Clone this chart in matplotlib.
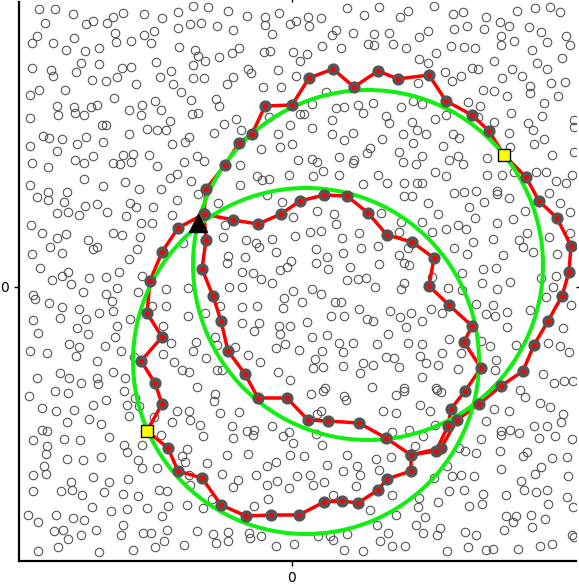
import numpy as np
import matplotlib
matplotlib.use("Agg")
import matplotlib.pyplot as plt
from matplotlib.patches import Circle

# background sample points (data units)
bg_points = [
(-253,278),(-237,278),(-219,273),(-247,264),(-206,263),(-199,266),(-185,264),(-179,270),(-169,274),(-148,273),
(-130,269),(-114,275),(-99,281),(-255,251),(-260,244),(-239,244),(-218,249),(-226,237),(-207,236),(-193,239),
(-177,254),(-176,245),(-161,246),(-148,252),(-138,256),(-141,244),(-114,259),(-102,263),(-113,240),(-260,219),
(-241,217),(-239,211),(-216,215),(-211,224),(-193,223),(-200,207),(-186,206),(-175,210),(-170,219),(-161,220),
(-156,203),(-136,225),(-132,210),(-121,216),(-119,203),(-111,195),(-99,222),(-99,209),(-262,192),(-253,197),
(-227,197),(-178,189),(-235,181),(-218,180),(-234,172),(-217,174),(-208,172),(-201,180),(-195,182),(-163,177),
(-150,182),(-151,172),(-137,186),(-131,177),(-122,166),(-101,187),(-100,173),(-262,169),(-190,162),(-186,162),
(-145,158),(-135,157),(-126,157),(-249,151),(-243,149),(-230,148),(-215,143),(-206,150),(-189,145),(-163,153),
(-120,143),(-107,145),(-103,150),(-262,141),(-235,136),(-217,127),(-208,124),(-199,131),(-179,124),(-172,123),
(-169,132),(-161,125),(-159,133),(-143,132),(-135,121),(-108,125),(-260,124),(-244,120),(-262,102),(-244,95),
(-225,95),(-208,108),(-189,101),(-167,105),(-153,98),(-131,98),(-122,109),(-115,113),(-101,106),
(-84,280),(-64,276),(-45,271),(-27,270),(-27,262),(-13,274),(-2,263),(4,266),(16,270),(17,261),
(29,269),(55,279),(72,272),(87,280),(-91,264),(-75,261),(-59,257),(-20,253),(40,252),(44,257),
(61,254),(82,253),(30,241),(49,239),(76,243),(82,242),(-97,237),(-94,231),(-87,226),(-73,230),
(-60,234),(-53,239),(-28,235),(-22,236),(1,235),(15,233),(8,226),(-88,209),(-44,218),(-41,214),
(-14,217),(4,211),(-65,203),(-59,210),(-29,200),(-11,200),(34,195),(-76,188),(-73,181),(-94,174),
(-56,168),(-23,170),(8,173),(12,173),(20,183),(44,179),(52,180),(66,182),(71,174),(81,184),
(-68,163),(-78,154),(-51,157),(-2,162),(20,159),(40,167),(52,147),(61,154),(90,148),(-14,153),
(-31,138),(-12,140),(0,143),(40,153),(-95,131),(-88,126),(-52,122),(6,127),(20,128),(25,125),
(47,130),(62,127),(61,124),(75,134),(78,139),(31,116),(-35,111),(-30,107),(-23,108),(-3,112),
(21,111),(47,112),(86,112),(71,103),(-52,102),(-94,93),
(142,281),(161,273),(171,275),(194,270),(208,265),(225,276),(243,279),(258,280),(268,275),(108,270),
(116,276),(97,254),(101,243),(114,239),(127,250),(136,256),(162,258),(175,261),(192,258),(217,261),
(209,251),(209,242),(222,246),(237,260),(249,255),(255,245),(274,251),(278,242),(159,241),(172,240),
(183,239),(240,237),(144,234),(127,228),(136,224),(202,226),(270,229),(245,224),(255,218),(153,215),
(160,206),(169,211),(180,219),(186,218),(220,218),(210,209),(230,211),(238,201),(238,194),(259,204),
(273,205),(126,204),(191,197),(202,196),(215,191),(266,191),(121,186),(130,183),(109,180),(176,185),
(188,181),(252,184),(94,171),(97,164),(120,165),(125,157),(134,153),(143,168),(154,172),(186,170),
(202,165),(219,174),(236,164),(241,157),(250,171),(282,167),(282,160),(111,153),(121,144),(151,141),
(161,153),(167,149),(217,154),(218,140),(242,143),(252,148),(107,135),(111,125),(130,131),(124,123),
(157,127),(166,131),(171,123),(195,129),(260,132),(282,135),(95,104),(112,104),(125,104),(130,104),
(143,115),(154,111),(195,112),(210,112),(222,115),(244,115),(254,115),(264,106),(280,112),(274,104),
(162,94),(172,95),(184,96),(205,96),(205,93),(257,94),
(-255,90),(-244,87),(-228,85),(-207,81),(-195,83),(-235,74),(-224,75),(-213,72),(-185,75),(-162,84),
(-156,80),(-139,80),(-115,87),(-166,71),(-261,62),(-250,54),(-235,49),(-226,53),(-179,54),(-170,52),
(-151,64),(-140,64),(-120,72),(-152,50),(-204,47),(-199,38),(-195,40),(-242,40),(-230,34),(-260,33),
(-155,38),(-163,28),(-252,19),(-224,15),(-230,11),(-240,7),(-203,9),(-186,10),(-173,15),(-150,11),
(-221,3),(-175,-1),(-209,-5),(-259,-8),(-257,-12),(-186,-7),(-180,-14),(-243,-16),(-230,-20),(-213,-22),
(-193,-26),(-179,-24),(-154,-5),(-232,-31),(-259,-33),(-206,-32),(-162,-32),(-175,-39),(-254,-46),(-215,-41),
(-204,-47),(-177,-50),(-223,-57),(-213,-60),(-187,-59),(-216,-69),(-262,-64),(-245,-66),(-171,-64),(-195,-74),
(-232,-86),(-223,-91),(-211,-96),(-195,-91),(-194,-97),(-179,-85),(-167,-91),(-255,-91),(-158,-70),(-140,-19),
(-126,-19),(-126,-2),(-129,-39),(-121,-56),(-129,-67),(-118,-75),(-110,-83),(-103,-85),(-99,-64),(-104,-29),
(-104,-1),(-109,44),
(-74,84),(-67,62),(-69,50),(-46,47),(-36,44),(-33,40),(-20,48),(-25,92),(-10,85),(1,70),
(25,76),(42,73),(44,63),(18,55),(29,56),(3,51),(67,54),(50,49),(89,74),(86,41),
(69,39),(24,38),(51,34),(-16,35),(-64,31),(-65,24),(-47,30),(-1,26),(-5,20),(-12,17),
(24,24),(35,30),(36,18),(58,20),(87,23),(-50,15),(-39,14),(-31,8),(-20,4),(-63,0),
(-50,0),(1,-4),(20,-2),(29,-7),(55,7),(66,8),(74,9),(83,0),(-8,-11),(10,-15),
(43,-15),(49,-15),(-72,-19),(-50,-20),(-35,-19),(-9,-21),(67,-22),(39,-29),(52,-29),(75,-32),
(81,-34),(-87,-26),(-50,-36),(-33,-36),(-38,-44),(-13,-39),(-2,-39),(15,-35),(-12,-47),(20,-50),
(35,-48),(47,-56),(61,-56),(85,-57),(-77,-50),(-75,-58),(-57,-60),(-16,-61),(-7,-57),(7,-63),
(30,-64),(51,-65),(-44,-68),(-32,-75),(23,-72),(21,-81),(31,-80),(51,-79),(71,-76),(81,-78),
(68,-86),(-14,-85),(-2,-93),(-75,-83),(-70,-83),(-86,-71),(-95,-100),(33,-101),(80,-100),(-96,-55),
(112,91),(120,91),(136,84),(217,89),(268,84),(177,80),(192,85),(146,73),(130,65),(109,65),
(107,55),(140,55),(154,58),(166,62),(174,58),(183,69),(205,64),(221,68),(233,76),(278,75),
(235,54),(257,50),(278,54),(181,45),(201,48),(227,47),(231,40),(241,35),(265,33),(162,39),
(175,33),(211,32),(116,39),(107,32),(112,24),(117,22),(191,18),(204,19),(170,14),(140,10),
(249,9),(264,11),(112,4),(109,-2),(156,-1),(170,-3),(190,4),(205,-2),(218,5),(261,0),
(254,-10),(279,-18),(139,-22),(150,-26),(119,-26),(108,-30),(98,-24),(184,-17),(201,-18),(194,-27),
(203,-29),(215,-25),(238,-23),(271,-41),(114,-40),(130,-34),(215,-40),(96,-47),(116,-56),(130,-57),
(157,-52),(189,-54),(198,-59),(224,-58),(256,-56),(268,-59),(277,-65),(150,-66),(169,-66),(94,-70),
(102,-71),(128,-69),(134,-76),(146,-78),(107,-80),(204,-73),(203,-83),(166,-82),(251,-87),(272,-94),
(281,-94),(130,-90),(112,-101),(144,-101),(262,-96),
(-263,-109),(-237,-104),(-224,-106),(-250,-121),(-236,-124),(-218,-123),(-199,-118),(-186,-113),(-203,-132),(-191,-137),
(-225,-135),(-165,-118),(-168,-104),(-163,-129),(-157,-111),(-153,-119),(-138,-130),(-115,-124),(-103,-124),(-102,-133),
(-120,-135),(-250,-143),(-245,-144),(-259,-153),(-228,-152),(-212,-153),(-183,-150),(-245,-159),(-246,-167),(-131,-148),
(-150,-158),(-168,-158),(-165,-165),(-105,-162),(-110,-169),(-107,-175),(-225,-172),(-209,-173),(-191,-170),(-154,-173),
(-150,-181),(-135,-181),(-248,-179),(-246,-187),(-259,-188),(-199,-190),(-221,-195),(-183,-195),(-164,-192),(-103,-188),
(-102,-198),(-259,-204),(-231,-204),(-220,-203),(-210,-208),(-188,-205),(-169,-207),(-154,-209),(-133,-203),(-125,-204),
(-264,-228),(-254,-235),(-236,-228),(-219,-231),(-208,-233),(-200,-220),(-181,-224),(-165,-222),(-145,-221),(-124,-219),
(-130,-229),(-105,-218),(-238,-244),(-229,-243),(-211,-248),(-196,-243),(-224,-252),(-169,-238),(-171,-248),(-149,-246),
(-141,-246),(-125,-243),(-108,-258),(-128,-254),(-137,-260),(-159,-263),(-193,-265),(-234,-260),(-254,-264),
(-77,-107),(-78,-114),(19,-107),(31,-104),(52,-109),(54,-113),(-72,-126),(-53,-125),(25,-127),(29,-124),
(91,-124),(-92,-138),(-60,-139),(-45,-144),(-39,-148),(-38,-143),(-20,-139),(-9,-149),(-3,-145),(-89,-149),
(-59,-151),(24,-147),(1,-156),(30,-158),(55,-168),(84,-172),(-65,-168),(-44,-167),(-2,-168),(12,-169),
(-85,-176),(-25,-179),(-16,-175),(35,-178),(51,-184),(65,-179),(68,-188),(87,-183),(-70,-187),(-54,-193),
(-59,-200),(-36,-188),(-25,-198),(-15,-194),(-3,-201),(5,-189),(18,-188),(21,-198),(32,-195),(64,-199),
(-80,-212),(-89,-221),(-24,-212),(-38,-219),(41,-208),(78,-223),(-95,-244),(-79,-247),(-76,-256),(-64,-245),
(-64,-254),(-43,-246),(-42,-251),(-31,-249),(-16,-259),(2,-257),(26,-249),(38,-249),(41,-253),(55,-247),
(52,-263),(71,-264),(85,-238),(88,-254),
(104,-108),(112,-104),(145,-103),(149,-105),(128,-118),(138,-124),(104,-126),(228,-103),(233,-110),(202,-122),
(217,-124),(248,-116),(258,-120),(271,-127),(269,-135),(194,-134),(242,-139),(255,-139),(209,-144),(209,-148),
(218,-143),(227,-146),(263,-149),(280,-152),(247,-151),(189,-152),(143,-138),(131,-149),(117,-143),(100,-145),
(167,-161),(173,-164),(184,-166),(208,-164),(231,-169),(235,-165),(260,-171),(275,-170),(99,-170),(123,-159),
(155,-179),(209,-182),(249,-180),(243,-187),(160,-189),(169,-188),(182,-189),(142,-191),(229,-194),(276,-189),
(100,-208),(157,-204),(172,-203),(191,-207),(214,-208),(232,-203),(244,-205),(255,-203),(275,-210),(127,-211),
(126,-220),(146,-215),(177,-219),(190,-217),(256,-217),(281,-220),(104,-228),(133,-230),(124,-238),(214,-229),
(224,-229),(239,-228),(253,-232),(221,-235),(148,-241),(145,-248),(131,-246),(96,-246),(173,-245),(184,-248),
(212,-243),(240,-240),(280,-248),(282,-250),(100,-259),(113,-259),(155,-264),(176,-260),(194,-263),(201,-262),
(226,-262),(248,-259),(260,-257),
]

# outer loop of the route (starts at the junction node)
outer_x = [-88, -86, -67, -53, -40, -27, 0, 17, 41, 62, 86, 106, 137, 154, 180, 197, 212, 234, 247, 265,
           279, 277, 270, 256, 242, 231, 209, 187, 165, 149, 119, 119, 95, 86, 66, 50, 32, 7, -21, -46,
           -71, -90, -114, -124, -145, -130, -137, -151, -130, -145, -142, -130, -114]
outer_y = [73, 98, 122, 144, 153, 181, 182, 209, 218, 200, 216, 208, 212, 186, 172, 156, 132, 110, 86, 69,
           41, 15, -9, -34, -58, -84, -99, -117, -133, -161, -168, -184, -192, -203, -216, -214, -215, -228, -228, -229,
           -218, -191, -184, -161, -144, -117, -96, -74, -50, -26, 6, 35, 59]
# inner loop of the route
inner_x = [-88, -59, -34, -11, 8, 32, 55, 76, 95, 120, 142, 137, 157, 180, 172, 189, 173, 159, 156, 144,
           119, 94, 67, 36, 16, -5, -34, -47, -64, -71, -79, -90, -86, -88]
inner_y = [73, 67, 63, 73, 86, 92, 91, 74, 52, 45, 29, 1, -18, -39, -55, -81, -104, -122, -139, -164,
           -168, -151, -136, -134, -133, -111, -111, -87, -64, -34, -9, 18, 47, 73]

# fitted circles: centre x, centre y, radius
circ_cx = [76, 14]
circ_cy = [22, -74]
circ_r = [175, 173]

# special markers
tri_x, tri_y = [-94], [64]
sq_x, sq_y = [212, -145], [132, -144]

fig = plt.figure(figsize=(5.79, 5.88), dpi=100)
ax = fig.add_axes([19 / 579, 27 / 588, 556.5 / 579, 559.3 / 588])
ax.set_xlim(-273, 283.5)
ax.set_ylim(-274, 285.3)

bg = np.array(bg_points)
ax.plot(bg[:, 0], bg[:, 1], 'o', ms=6.1, mfc='none', mec='#555555', mew=0.8, zorder=1)

path_x = outer_x + inner_x
path_y = outer_y + inner_y
ax.plot(path_x, path_y, '-', color='#ff0000', lw=2.5, zorder=2)

for cx, cy, r in zip(circ_cx, circ_cy, circ_r):
    ax.add_patch(Circle((cx, cy), r, fill=False, ec='#11ee11', lw=2.9, zorder=3))

ax.plot(path_x, path_y, 'o', ms=6.2, mfc='#ff0000', mec='#555555', mew=2.6, zorder=4)
ax.plot(sq_x, sq_y, 's', ms=8.3, mfc='#ffff00', mec='black', mew=1.0, zorder=5)
ax.plot(tri_x, tri_y, '^', ms=13, color='black', zorder=6)

ax.set_xticks([0])
ax.set_yticks([0])
ax.tick_params(direction='out', length=3.5, width=1.0, top=True, right=True, labelsize=10)
ax.spines['top'].set_visible(False)
ax.spines['right'].set_visible(False)
ax.spines['left'].set_linewidth(1.6)
ax.spines['bottom'].set_linewidth(1.6)

fig.savefig('out.png', dpi=100)
